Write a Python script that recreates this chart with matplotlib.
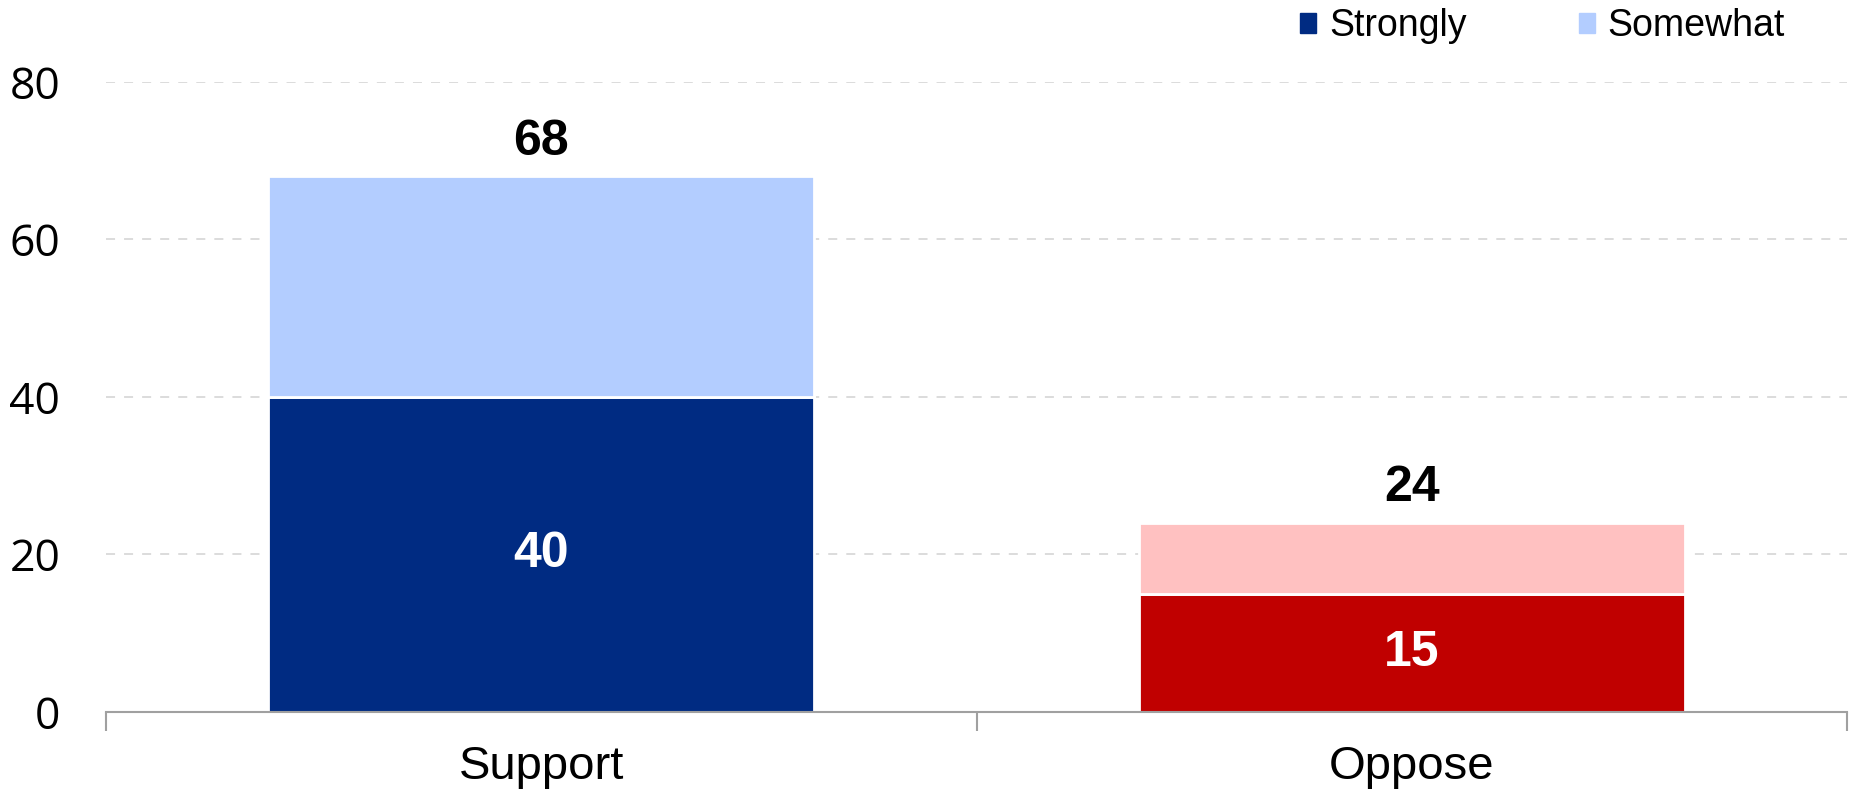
import matplotlib.pyplot as plt
from matplotlib.patches import Patch

categories = ["Support", "Oppose"]
strongly = [40, 15]
somewhat = [28, 9]
totals = [68, 24]

strong_colors = ["#002B82", "#C00000"]
some_colors = ["#B3CDFF", "#FFC1C1"]

plt.rcParams["font.family"] = ["Liberation Sans", "DejaVu Sans"]

fig = plt.figure(figsize=(18.54, 7.95), dpi=100)
ax = fig.add_axes([0.0572, 0.1044, 0.939, 0.7925])

x = range(len(categories))
ax.bar(x, strongly, width=0.627, color=strong_colors, edgecolor="white", linewidth=2, zorder=3)
ax.bar(x, somewhat, width=0.627, bottom=strongly, color=some_colors,
       edgecolor="white", linewidth=2, zorder=3)

bold = dict(fontweight="bold", fontsize=36)
for i in x:
    ax.text(i, strongly[i] / 2, str(strongly[i]), ha="center", va="center", color="white", **bold)
    ax.text(i, totals[i] + 4.4, str(totals[i]), ha="center", va="center", color="black", **bold)

ax.set_xlim(-0.5, 1.5)
ax.set_ylim(0, 80)
ax.set_yticks([0, 20, 40, 60, 80])
ax.tick_params(axis="y", length=0, labelsize=32, pad=33)
for lab in ax.get_yticklabels():
    lab.set_family(["Open Sans", "DejaVu Sans"])
ax.set_xticks(list(x))
ax.set_xticklabels(categories, fontsize=34)
ax.tick_params(axis="x", which="major", length=0, pad=24)
ax.set_xticks([-0.5, 0.5, 1.5], minor=True)
ax.tick_params(axis="x", which="minor", length=14, color="#A0A0A0", width=1.5)

ax.yaxis.grid(True, linestyle=(0, (5, 5)), color="#D9D9D9", linewidth=1.3, zorder=0)
for s in ["top", "right", "left"]:
    ax.spines[s].set_visible(False)
ax.spines["bottom"].set_color("#A0A0A0")
ax.spines["bottom"].set_linewidth(1.5)
ax.spines["bottom"].set_zorder(4)

handles = [Patch(color=strong_colors[0], label="Strongly"),
           Patch(color=some_colors[0], label="Somewhat")]
fig.legend(handles=handles, loc="center left", bbox_to_anchor=(0.683, 0.967), ncol=2,
           frameon=False, fontsize=27, handlelength=0.42, handleheight=0.42,
           handletextpad=0.35, columnspacing=3.0)

fig.savefig("out.png", dpi=100)
